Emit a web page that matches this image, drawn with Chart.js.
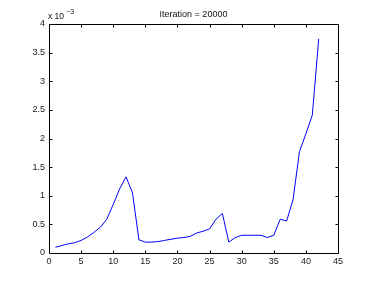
<!DOCTYPE html>
<html>
<head>
<meta charset="utf-8">
<script src="https://cdn.jsdelivr.net/npm/chart.js@4/dist/chart.umd.min.js"></script>
<style>
html,body{margin:0;padding:0;background:#fff;}
#wrap{width:374px;height:284px;}
</style>
</head>
<body>
<div id="wrap"><canvas id="c" width="374" height="284"></canvas></div>
<script>
const titleText = "Iteration = 20000";
const iterations = [1,2,3,4,5,6,7,8,9,10,11,12,13,14,15,16,17,18,19,20,21,22,23,24,25,26,27,28,29,30,31,32,33,34,35,36,37,38,39,40,41,42];
// values in units of 1e-3
const errorValues = [0.10,0.13,0.16,0.18,0.22,0.28,0.36,0.45,0.59,0.85,1.12,1.33,1.05,0.23,0.19,0.19,0.20,0.22,0.24,0.26,0.27,0.29,0.35,0.38,0.42,0.59,0.69,0.19,0.27,0.31,0.31,0.31,0.31,0.27,0.31,0.59,0.56,0.93,1.77,2.08,2.41,3.74];
const xTicks = [0,5,10,15,20,25,30,35,40,45];
const yTicks = [0,0.5,1,1.5,2,2.5,3,3.5,4];
const exponentBase = "x 10";
const exponentPower = "\u22123";

const FONT = "Liberation Sans, Arial, sans-serif";

const boxPlugin = {
  id: 'boxPlugin',
  afterDraw(chart) {
    const ctx = chart.ctx;
    const a = chart.chartArea;
    const xs = chart.scales.x, ys = chart.scales.y;
    ctx.save();
    ctx.strokeStyle = '#000';
    ctx.lineWidth = 1;
    const L = Math.round(a.left) + 0.5, R = Math.round(a.right) + 0.5;
    const T = Math.round(a.top) + 0.5, B = Math.round(a.bottom) + 0.5;
    ctx.beginPath();
    ctx.rect(L, T, R - L, B - T);
    ctx.stroke();
    const tl = 3;
    ctx.beginPath();
    xTicks.forEach(v => {
      const px = Math.round(xs.getPixelForValue(v)) + 0.5;
      ctx.moveTo(px, B); ctx.lineTo(px, B - tl);
      ctx.moveTo(px, T); ctx.lineTo(px, T + tl);
    });
    yTicks.forEach(v => {
      const py = Math.round(ys.getPixelForValue(v)) + 0.5;
      ctx.moveTo(L, py); ctx.lineTo(L + tl, py);
      ctx.moveTo(R, py); ctx.lineTo(R - tl, py);
    });
    ctx.stroke();
    // title
    ctx.fillStyle = '#111';
    ctx.font = '9px ' + FONT;
    ctx.textAlign = 'center';
    ctx.textBaseline = 'middle';
    ctx.fillText(titleText, (a.left + a.right) / 2, 15);
    // exponent
    ctx.textAlign = 'left';
    ctx.font = '8.5px ' + FONT;
    ctx.fillText(exponentBase, 48, 17);
    const w = ctx.measureText(exponentBase).width;
    ctx.font = '7px ' + FONT;
    ctx.fillText(exponentPower, 48 + w + 2, 12);
    ctx.restore();
  }
};

new Chart(document.getElementById('c'), {
  type: 'line',
  data: {
    datasets: [{
      data: iterations.map((x, i) => ({x: x, y: errorValues[i]})),
      borderColor: '#0000ff',
      borderWidth: 1,
      pointRadius: 0,
      tension: 0,
      fill: false
    }]
  },
  options: {
    responsive: false,
    animation: false,
    devicePixelRatio: 1,
    layout: {padding: {left: 0, top: 24, right: 36, bottom: 0}},
    plugins: {legend: {display: false}, tooltip: {enabled: false}, title: {display: false}},
    scales: {
      x: {
        type: 'linear', min: 0, max: 45,
        afterBuildTicks: s => { s.ticks = xTicks.map(v => ({value: v})); },
        afterFit: s => { s.height = 31; },
        grid: {display: false, drawTicks: false, tickLength: 0},
        border: {display: false},
        ticks: {color: '#222', font: {size: 9, family: FONT}, padding: 3, maxRotation: 0, autoSkip: false}
      },
      y: {
        type: 'linear', min: 0, max: 4,
        afterBuildTicks: s => { s.ticks = yTicks.map(v => ({value: v})); },
        afterFit: s => { s.width = 49; },
        grid: {display: false, drawTicks: false, tickLength: 0},
        border: {display: false},
        ticks: {color: '#222', font: {size: 9, family: FONT}, padding: 4, autoSkip: false,
                callback: v => String(v)}
      }
    }
  },
  plugins: [boxPlugin]
});
</script>
</body>
</html>
